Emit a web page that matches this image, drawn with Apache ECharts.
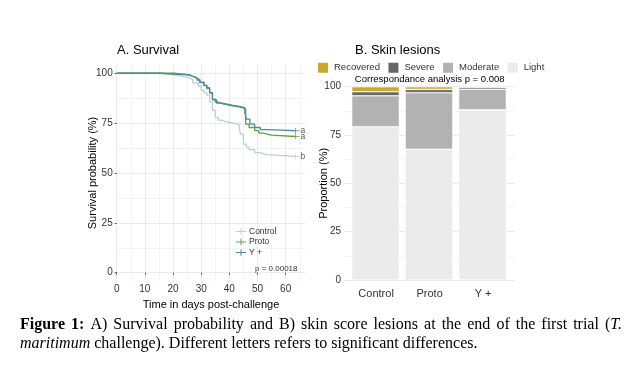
<!DOCTYPE html>
<html>
<head>
<meta charset="utf-8">
<script src="https://cdn.jsdelivr.net/npm/echarts@6/dist/echarts.min.js"></script>
<style>
html,body{margin:0;padding:0;background:#fff;}
#chart{width:644px;height:366px;}
</style>
</head>
<body>
<div id="chart"></div>
<script>
// ---------- Data: A. Survival (Kaplan-Meier steps) ----------
const groupNames = ['Control', 'Proto', 'Y +'];
const sigLetters = ['b', 'a', 'a'];
const controlDays = [0, 17, 19, 22, 25, 27, 29, 30, 31, 32, 33, 34, 35, 36, 37, 39, 42, 43.5, 44, 45, 46, 47, 49, 51, 53, 63.5];
const controlSurv = [100, 99.4, 98.8, 97.9, 96.9, 95.2, 93.5, 91.5, 90.2, 89, 85.7, 81.5, 77.9, 76.5, 75.7, 74.9, 74.3, 72.4, 69.5, 64.5, 63, 61.7, 60.2, 59.2, 58.3, 58.3];
const protoDays = [0, 21, 24, 26, 27, 28, 29.5, 31, 32, 33, 34, 35, 36, 38, 41, 43.5, 45, 45.8, 47, 49, 50.5, 52, 55, 63.5];
const protoSurv = [100, 99.6, 99.2, 98.5, 97.8, 96.8, 95.6, 94, 92.8, 90.3, 87, 85.5, 84.5, 83.7, 83.2, 82.5, 82, 74.5, 72.8, 71.2, 70, 69, 68.3, 68.3];
const yplusDays = [0, 15, 20, 24, 26, 27, 28.5, 29.5, 31, 32, 33, 34, 35.5, 37.5, 41, 44, 45.5, 46, 47.3, 49, 51, 53, 63.5];
const yplusSurv = [100, 99.6, 99.3, 98.9, 98.4, 97.8, 96.6, 95.3, 93.8, 92.3, 90, 86.7, 85, 84, 83.3, 82.8, 80.3, 77, 74.5, 72.8, 71.7, 71.2, 71.2];
const survXTicks = [0, 10, 20, 30, 40, 50, 60];
const survXMinor = [5, 15, 25, 35, 45, 55, 65];
const survYTicks = [0, 25, 50, 75, 100];
const survYMinor = [12.5, 37.5, 62.5, 87.5];
const pValueText = 'p = 0.00018';

// ---------- Data: B. Skin lesions (proportions %) ----------
const categories = ['Control', 'Proto', 'Y +'];
const lesionLevels = ['Recovered', 'Severe', 'Moderate', 'Light'];
const lightVals = [79.3, 67.6, 88.0];
const moderateVals = [16.0, 29.3, 10.7];
const severeVals = [2.1, 1.7, 1.0];
const recoveredVals = [2.6, 1.4, 0.3];
const barYTicks = [0, 25, 50, 75, 100];
const barYMinor = [12.5, 37.5, 62.5, 87.5];
const corrText = 'Correspondance analysis p = 0.008';

// ---------- Caption ----------
const captionLine1 = [
  [['Figure', 'bold']], [['1:', 'bold']], [['A)', '']], [['Survival', '']], [['probability', '']],
  [['and', '']], [['B)', '']], [['skin', '']], [['score', '']], [['lesions', '']], [['at', '']],
  [['the', '']], [['end', '']], [['of', '']], [['the', '']], [['first', '']], [['trial', '']],
  [['(', ''], ['T.', 'italic']]
];
const captionLine2 = [
  [['maritimum', 'italic']], [['challenge).', '']], [['Different', '']], [['letters', '']],
  [['refers', '']], [['to', '']], [['significant', '']], [['differences.', '']]
];

// ---------- Styles ----------
const FONT = 'Liberation Sans, Arial, sans-serif';
const SERIF = 'Liberation Serif';
const CAP_SIZE = 16;
const survColors = ['#c3ccd0', '#5da23a', '#4b88a8'];
const lesionColors = {Recovered: '#c9a82c', Severe: '#666666', Moderate: '#b2b2b2', Light: '#ebebeb'};
const gridMajor = '#ebebeb';
const gridMinor = '#f3f3f3';
const txt = '#333333';

const survDays = [controlDays, protoDays, yplusDays];
const survVals = [controlSurv, protoSurv, yplusSurv];
const plusIcon = 'path://M0,4.4H12V5.6H0Z M5.4,1H6.6V9H5.4Z';

const series = [];
groupNames.forEach((g, i) => {
  series.push({
    name: g, type: 'line', step: 'end', xAxisIndex: 0, yAxisIndex: 0,
    data: survDays[i].map((d, k) => [d, survVals[i][k]]),
    symbol: 'none', color: survColors[i],
    lineStyle: {width: 1.3, color: survColors[i]}, z: 3 + i, animation: false
  });
});
groupNames.forEach((g, i) => {
  const n = survDays[i].length - 1;
  series.push({
    name: g + ' end', type: 'scatter', xAxisIndex: 0, yAxisIndex: 0,
    data: [[survDays[i][n], survVals[i][n]]],
    symbol: plusIcon, symbolSize: [8, 6], itemStyle: {color: survColors[i]},
    label: {show: true, position: 'right', distance: 1, formatter: sigLetters[i],
            fontSize: 8.5, fontFamily: FONT, color: txt},
    z: 6, animation: false
  });
});
const lesionVals = {Light: lightVals, Moderate: moderateVals, Severe: severeVals, Recovered: recoveredVals};
['Light', 'Moderate', 'Severe', 'Recovered'].forEach(lv => {
  series.push({
    name: lv, type: 'bar', stack: 'skin', xAxisIndex: 3, yAxisIndex: 4,
    barWidth: 47.7,
    data: lesionVals[lv].slice(),
    itemStyle: {color: lesionColors[lv], borderColor: '#ffffff', borderWidth: 0.6},
    animation: false
  });
});

// ---------- Caption layout (justified first line) ----------
const mctx = document.createElement('canvas').getContext('2d');
function fontStr(st) {
  return (st === 'italic' ? 'italic ' : '') + (st === 'bold' ? 'bold ' : '') + CAP_SIZE + 'px "' + SERIF + '"';
}
function wordWidth(w) { return w.reduce((s, p) => { mctx.font = fontStr(p[1]); return s + mctx.measureText(p[0]).width; }, 0); }
function captionGraphics(words, y, x0, x1) {
  const out = [];
  let gap;
  if (x1 != null) {
    const total = words.reduce((s, w) => s + wordWidth(w), 0);
    gap = (x1 - x0 - total) / (words.length - 1);
  } else {
    mctx.font = fontStr('');
    gap = mctx.measureText(' ').width;
  }
  let x = x0;
  words.forEach(w => {
    w.forEach(p => {
      mctx.font = fontStr(p[1]);
      out.push({type: 'text', x: x, y: y, z: 10, silent: true,
        style: {text: p[0], fontSize: CAP_SIZE, fontFamily: SERIF, fill: '#000', verticalAlign: 'middle',
                fontWeight: p[1] === 'bold' ? 'bold' : 'normal', fontStyle: p[1] === 'italic' ? 'italic' : 'normal'}});
      x += mctx.measureText(p[0]).width;
    });
    x += gap;
  });
  return out;
}

const axisLabelBase = {fontSize: 10, fontFamily: FONT, color: txt};

const option = {
  backgroundColor: '#ffffff',
  animation: false,
  title: [
    {text: 'A. Survival', left: 117, top: 43.5, padding: 0, textStyle: {fontSize: 13, fontWeight: 'normal', fontFamily: FONT, color: '#000'}},
    {text: 'B. Skin lesions', left: 355, top: 43.5, padding: 0, textStyle: {fontSize: 13, fontWeight: 'normal', fontFamily: FONT, color: '#000'}}
  ],
  legend: [
    {
      data: groupNames, orient: 'vertical', left: 236, top: 227, padding: 0,
      itemWidth: 10, itemHeight: 8, itemGap: 1.5, icon: plusIcon,
      textStyle: {fontSize: 8.5, fontFamily: FONT, color: txt, padding: [0, 0, 0, -2]},
      selectedMode: false
    },
    {
      data: lesionLevels, orient: 'horizontal', left: 316, top: 60.7, padding: 0,
      itemWidth: 12, itemHeight: 12, itemGap: 6.5, icon: 'rect',
      textStyle: {fontSize: 9.5, fontFamily: FONT, color: txt},
      selectedMode: false
    }
  ],
  grid: [
    {left: 116.7, top: 63.3, width: 188.7, height: 219.4},
    {left: 344, top: 86.7, width: 171.2, height: 193.3},
    {left: 348.75, top: 86.7, width: 160.5, height: 193.3}
  ],
  xAxis: [
    {
      type: 'value', gridIndex: 0, min: 0, max: 67,
      name: 'Time in days post-challenge', nameLocation: 'middle', nameGap: 9,
      nameTextStyle: {fontSize: 11, fontFamily: FONT, color: '#000'},
      axisLine: {show: false},
      axisTick: {show: true, length: 2, lineStyle: {color: '#555'}, customValues: survXTicks},
      axisLabel: Object.assign({margin: 2, customValues: survXTicks}, axisLabelBase),
      splitLine: {show: true, lineStyle: {color: gridMajor, width: 1}}
    },
    {
      type: 'value', gridIndex: 0, min: 0, max: 67,
      axisLine: {show: false},
      axisTick: {show: false, customValues: survXMinor},
      axisLabel: {show: false, customValues: survXMinor},
      splitLine: {show: true, lineStyle: {color: gridMinor, width: 1}}
    },
    {
      type: 'value', gridIndex: 1, min: 0.4, max: 3.6,
      axisLine: {show: false},
      axisTick: {show: false, customValues: [1, 2, 3]},
      axisLabel: Object.assign({margin: 8, customValues: [1, 2, 3],
        formatter: v => categories[Math.round(v) - 1] || ''}, axisLabelBase, {fontSize: 11}),
      splitLine: {show: true, lineStyle: {color: gridMinor, width: 1}}
    },
    {
      type: 'category', gridIndex: 2, data: categories,
      axisLine: {show: false}, axisTick: {show: false}, axisLabel: {show: false}, splitLine: {show: false}
    }
  ],
  yAxis: [
    {
      type: 'value', gridIndex: 0, min: -5, max: 105,
      name: 'Survival probability (%)', nameLocation: 'middle', nameGap: 18, nameMoveOverlap: false,
      nameTextStyle: {fontSize: 11, fontFamily: FONT, color: '#000'},
      axisLine: {show: false},
      axisTick: {show: true, length: 2, lineStyle: {color: '#555'}, customValues: survYTicks},
      axisLabel: Object.assign({margin: 4, customValues: survYTicks}, axisLabelBase),
      splitLine: {show: true, lineStyle: {color: gridMajor, width: 1}}
    },
    {
      type: 'value', gridIndex: 0, min: -5, max: 105,
      axisLine: {show: false},
      axisTick: {show: false, customValues: survYMinor},
      axisLabel: {show: false, customValues: survYMinor},
      splitLine: {show: true, lineStyle: {color: gridMinor, width: 1}}
    },
    {
      type: 'value', gridIndex: 1, min: 0, max: 100,
      name: 'Proportion (%)', nameLocation: 'middle', nameGap: 14.5, nameMoveOverlap: false,
      nameTextStyle: {fontSize: 11, fontFamily: FONT, color: '#000'},
      axisLine: {show: false},
      axisTick: {show: false, customValues: barYTicks},
      axisLabel: Object.assign({margin: 3, customValues: barYTicks}, axisLabelBase),
      splitLine: {show: true, lineStyle: {color: gridMajor, width: 1}}
    },
    {
      type: 'value', gridIndex: 1, min: 0, max: 100,
      axisLine: {show: false},
      axisTick: {show: false, customValues: barYMinor},
      axisLabel: {show: false, customValues: barYMinor},
      splitLine: {show: true, lineStyle: {color: gridMinor, width: 1}}
    },
    {
      type: 'value', gridIndex: 2, min: 0, max: 100,
      axisLine: {show: false}, axisTick: {show: false}, axisLabel: {show: false}, splitLine: {show: false}
    }
  ],
  graphic: [
    {type: 'text', left: 255, top: 265, z: 10,
     style: {text: pValueText, fontSize: 8, fontFamily: FONT, fill: txt}},
    {type: 'text', x: 429.7, y: 79.5, z: 10,
     style: {text: corrText, fontSize: 9.5, fontFamily: FONT, fill: '#000', align: 'center', verticalAlign: 'middle'}}
  ].concat(captionGraphics(captionLine1, 325, 20, 622), captionGraphics(captionLine2, 344, 20, null)),
  series: series
};

const chart = echarts.init(document.getElementById('chart'), null, {renderer: 'canvas'});
chart.setOption(option);
</script>
</body>
</html>
